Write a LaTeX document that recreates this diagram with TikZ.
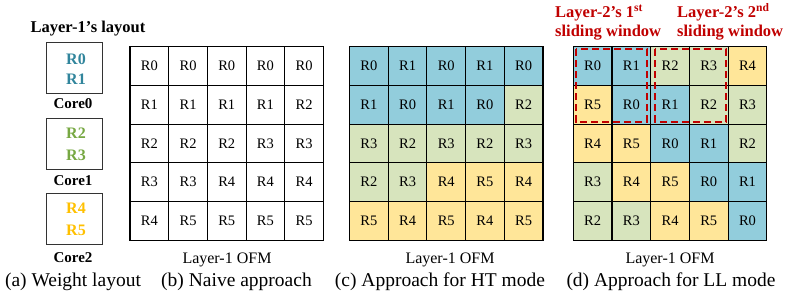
\documentclass[tikz,border=0pt]{standalone}
\usepackage{fontspec}
\setmainfont{Liberation Serif}
\definecolor{cblue}{HTML}{92CDDC}
\definecolor{cgreen}{HTML}{D7E4BD}
\definecolor{cyellow}{HTML}{FFE699}
\definecolor{tblue}{HTML}{31859C}
\definecolor{tgreen}{HTML}{77A843}
\definecolor{tyellow}{HTML}{FFC000}
\definecolor{dred}{HTML}{C00000}
\begin{document}
\begin{tikzpicture}[x=1pt,y=-1pt,
  cell/.style={draw, line width=1.1pt, minimum width=38.7pt, minimum height=38.7pt, inner sep=0pt, font=\fontsize{14.5}{14.5}\selectfont},
  corebox/.style={draw=black!80, line width=1pt, minimum width=56pt, minimum height=51pt, inner sep=0pt},
  coretxt/.style={font=\fontsize{16}{16}\selectfont\bfseries, inner sep=0pt},
  corelbl/.style={font=\fontsize{15}{15}\selectfont\bfseries, inner sep=0pt, anchor=base},
  ofm/.style={font=\fontsize{16}{16}\selectfont, inner sep=0pt, anchor=base},
  captxt/.style={font=\fontsize{19.5}{19.5}\selectfont, inner sep=0pt, anchor=base},
  redlbl/.style={font=\fontsize{16.5}{16.5}\selectfont\bfseries, text=dred, inner sep=0pt, anchor=base west},
  window/.style={draw=dred, line width=2.2pt, dash pattern=on 7pt off 4pt}
]
\useasboundingbox (0,0) rectangle (789,304);

% (a) weight layout
\node[font=\fontsize{16.5}{16.5}\selectfont\bfseries, inner sep=0pt, anchor=base] (title) at (88,33) {Layer-1’s layout};
\node[corebox] (core0) at (74.2,68) {};
\node[corebox] (core1) at (74.2,143.8) {};
\node[corebox] (core2) at (74.2,218.8) {};
\node[coretxt, text=tblue] (a0) at (76,59) {R0};
\node[coretxt, text=tblue] (a1) at (76,79.5) {R1};
\node[coretxt, text=tgreen] (a2) at (76,133.5) {R2};
\node[coretxt, text=tgreen] (a3) at (76,155) {R3};
\node[coretxt, text=tyellow] (a4) at (76,208.5) {R4};
\node[coretxt, text=tyellow] (a5) at (76,230) {R5};
\node[corelbl] (l0) at (73,109) {Core0};
\node[corelbl] (l1) at (73,185.5) {Core1};
\node[corelbl] (l2) at (73,262) {Core2};

% (b) naive
\foreach \r/\row in {0/{0,0,0,0,0},1/{1,1,1,1,2},2/{2,2,2,3,3},3/{3,3,4,4,4},4/{4,5,5,5,5}}{
  \foreach \v [count=\c from 0] in \row {
    \node[cell, fill=white] (b\r\c) at (130+38.7*\c+19.35, 46.7+38.7*\r+19.35) {R\v};
  }
}
% (c) HT mode
\foreach \r/\row in {0/{0,1,0,1,0},1/{1,0,1,0,2},2/{3,2,3,2,3},3/{2,3,4,5,4},4/{5,4,5,4,5}}{
  \foreach \v [count=\c from 0] in \row {
    \ifnum\v<2 \def\col{cblue}\else\ifnum\v<4 \def\col{cgreen}\else\def\col{cyellow}\fi\fi
    \node[cell, fill=\col] (c\r\c) at (349.5+38.7*\c+19.35, 46.7+38.7*\r+19.35) {R\v};
  }
}
% (d) LL mode
\foreach \r/\row in {0/{0,1,2,3,4},1/{5,0,1,2,3},2/{4,5,0,1,2},3/{3,4,5,0,1},4/{2,3,4,5,0}}{
  \foreach \v [count=\c from 0] in \row {
    \ifnum\v<2 \def\col{cblue}\else\ifnum\v<4 \def\col{cgreen}\else\def\col{cyellow}\fi\fi
    \node[cell, fill=\col] (d\r\c) at (573.3+38.7*\c+19.35, 46.7+38.7*\r+19.35) {R\v};
  }
}
\draw[window] (575.8,49.2) rectangle (646.7,121.7);
\draw[window] (655.3,49.2) rectangle (726,121.7);
\node[redlbl] (w1a) at (555,18) {Layer-2’s 1\textsuperscript{st}};
\node[redlbl] (w1b) at (555,37) {sliding window};
\node[redlbl] (w2a) at (677,18) {Layer-2’s 2\textsuperscript{nd}};
\node[redlbl] (w2b) at (677,37) {sliding window};

% OFM labels
\node[ofm] (ob) at (227,263) {Layer-1 OFM};
\node[ofm] (oc) at (450,263) {Layer-1 OFM};
\node[ofm] (od) at (670,263) {Layer-1 OFM};

% captions
\node[captxt] (capa) at (73,286) {(a) Weight layout};
\node[captxt] (capb) at (236.5,286) {(b) Naive approach};
\node[captxt] (capc) at (440,286) {(c) Approach for HT mode};
\node[captxt] (capd) at (671,286) {(d) Approach for LL mode};
\end{tikzpicture}
\end{document}
